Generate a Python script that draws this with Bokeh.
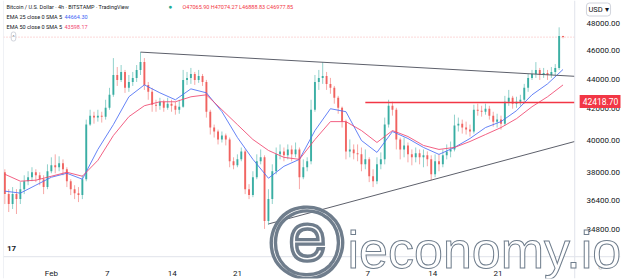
import pandas as pd
from bokeh.plotting import figure
from bokeh.models import Range1d, FixedTicker, NumeralTickFormatter, Label, Span, ColumnDataSource
from bokeh.embed import file_html
from bokeh.resources import INLINE

# ---------------- data ----------------
start_time = "2022-01-27 00:00"
candle_hours = 10
first_open = 38041.0
close = [36765, 36200, 36765, 36480, 37050, 37510, 37750, 38040, 37860, 37630,
         37170, 38100, 38460, 38340, 38580, 38220, 37510, 37050, 36820, 36710,
         37630, 40980, 41555, 41430, 41555, 41490, 42070, 42930, 44280, 43940,
         44490, 43400, 43800, 44080, 44630, 45180, 43600, 43130, 42270, 42200,
         42470, 42070, 42340, 42200, 41940, 42140, 43940, 44080, 44350, 43940,
         44210, 43800, 41810, 40790, 40540, 40040, 40290, 40040, 38700, 38460,
         38815, 39300, 37050, 36710, 37750, 38700, 38940, 35260, 36480, 38100,
         39120, 39300, 39060, 39420, 39120, 39420, 37750, 38340, 38700, 41940,
         43800, 44080, 44210, 43670, 43400, 42730, 42070, 41170, 39300, 39420,
         39180, 39120, 38515, 38815, 37810, 37510, 38515, 38815, 40980, 42200,
         41940, 40040, 39420, 39670, 39120, 38940, 39180, 38940, 39060, 38815,
         37920, 38700, 38515, 39060, 39300, 39420, 40920, 41040, 40790, 40660,
         40540, 41940, 41880, 41810, 42010, 41555, 41170, 41300, 41040, 42470,
         42730, 42340, 42470, 42600, 43400, 44080, 44350, 44630, 44280, 44420,
         44280, 44490, 44770, 47065.90, 46977.85]
high = [38218, 37050, 37170, 37050, 37460, 37860, 38100, 38340, 38220, 38040,
        37860, 38515, 38940, 39120, 39000, 38815, 38340, 37630, 37280, 37170,
        37860, 41300, 41940, 41810, 41940, 41810, 42600, 43400, 45465, 44835,
        44975, 44630, 44280, 44490, 44975, 45890, 45465, 43800, 43400, 42600,
        42730, 42600, 42730, 42600, 42470, 42600, 44630, 44490, 44770, 44490,
        44630, 44350, 43940, 41940, 40980, 40660, 40540, 40410, 40160, 38940,
        39120, 39540, 39420, 37340, 38100, 39120, 39420, 39060, 37050, 38515,
        39540, 39730, 39540, 39730, 39670, 39850, 39540, 38815, 38940, 42600,
        44280, 44630, 45180, 44490, 44080, 43530, 42860, 42150, 41300, 40040,
        39730, 39730, 39540, 39420, 38940, 38220, 38940, 39240, 41430, 42600,
        42470, 42070, 40160, 40160, 39850, 39420, 39540, 39420, 39420, 39300,
        39060, 39120, 39120, 39420, 39730, 39910, 41620, 41430, 41300, 41170,
        40980, 42270, 42340, 42200, 42340, 42200, 41810, 41680, 41555, 42860,
        43260, 42860, 42800, 42930, 43670, 44350, 44630, 45180, 44770, 44770,
        44630, 44835, 45040, 47700, 47074.27]
low = [36199, 35750, 35920, 35640, 36200, 36765, 37280, 37510, 37460, 37280,
       36765, 37050, 37980, 37980, 38100, 37860, 37170, 36710, 36480, 36310,
       36480, 37510, 40900, 41040, 41170, 41110, 41300, 41940, 42800, 43530,
       43800, 43060, 43130, 43530, 43800, 44280, 43260, 42600, 41810, 41810,
       41940, 41810, 41940, 41810, 41620, 41680, 42070, 43600, 43670, 43600,
       43740, 43530, 41430, 40350, 40160, 39730, 39850, 39670, 38340, 38220,
       38340, 38700, 36765, 36480, 36590, 37630, 38515, 34820, 35040, 36200,
       37920, 38815, 38700, 38815, 38700, 38940, 37050, 37630, 38100, 38515,
       41810, 43260, 43670, 43260, 43000, 42340, 41680, 40790, 38815, 38940,
       38815, 38700, 38100, 38220, 37460, 37170, 37340, 38220, 38515, 40790,
       41555, 39420, 38815, 38940, 38635, 38456, 38635, 38515, 38340, 38400,
       37570, 37750, 38100, 38340, 38815, 38940, 39300, 40540, 40410, 40350,
       40220, 40410, 41555, 41490, 41620, 41300, 40850, 40790, 40660, 40920,
       42200, 42010, 42070, 42200, 42340, 43130, 43940, 44080, 43940, 44080,
       43940, 44080, 44210, 44630, 46888.83]
# EMA values read at every 4th candle
ema25 = [36936, 36822, 37281, 37747, 37982, 37630, 39421, 40979, 42798, 43601,
         43064, 42599, 43331, 43064, 41814, 40162, 38815, 37688, 38396, 38815,
         40600, 42009, 41814, 39975, 39238, 40537, 40100, 39544, 39117, 39544,
         40100, 40790, 41171, 41879, 42930, 43669, 44664.30]
ema50 = [37923, 37514, 37572, 37806, 38041, 37806, 38755, 40287, 41491, 42205,
         42467, 42467, 42798, 42930, 41943, 40979, 40037, 39360, 38936, 38815,
         40037, 41171, 41171, 40600, 39852, 40600, 40224, 39667, 39421, 39544,
         39913, 40349, 40790, 41362, 42139, 42798, 43598.17]
upper_trend_t = ["2022-02-10 14:00", "2022-03-29 06:12"]
upper_trend_p = [45890, 44190]
lower_trend_t = ["2022-02-24 08:00", "2022-03-29 06:12"]
lower_trend_p = [35090, 39913]
level_t = ["2022-03-06 18:00", "2022-03-29 06:12"]
level_p = [42418.70, 42418.70]
last_price = 46977.85
date_ticks = ["2022-02-01", "2022-02-07", "2022-02-14", "2022-02-21",
              "2022-03-07", "2022-03-14", "2022-03-21"]
date_labels = ["Feb", "7", "14", "21", "7", "14", "21"]
price_ticks = [34800, 36400, 38000, 40000, 42000, 44000, 46000, 48000]

# ---------------- layout ----------------
W, H = 623, 280
FL, FB = 3, 280                      # frame left / bottom (canvas px)
view_start, view_end = "2022-01-26 20:32", "2022-04-03 04:18"
pane_end = "2022-03-29 06:12"        # right edge of the price pane
pane_bottom_price = 33342            # bottom edge of the price pane
UP, DOWN = "#26a69a", "#ef5350"
GRID = "#e0e3eb"


def ms(s):
    return int(pd.Timestamp(s).value // 10**6)


times = pd.date_range(start_time, periods=len(close), freq=f"{candle_hours}h")
opens = [first_open] + close[:-1]
df = pd.DataFrame(dict(t=times, open=opens, close=close, high=high, low=low))
df["top"] = df[["open", "close"]].max(axis=1)
df["bottom"] = df[["open", "close"]].min(axis=1)
inc = df[df.close >= df.open]
dec = df[df.close < df.open]

p = figure(width=W, height=H, x_axis_type="datetime", y_axis_type="log",
           y_axis_location="right",
           x_range=Range1d(ms(view_start), ms(view_end)),
           y_range=Range1d(32226, 49742),
           output_backend="svg", toolbar_location=None,
           min_border_left=FL, min_border_right=0,
           min_border_top=0, min_border_bottom=0)
p.outline_line_color = None
p.background_fill_color = "white"
p.border_fill_color = "white"
p.xgrid.grid_line_color = None
p.ygrid.grid_line_color = None

# price axis (labels drawn inwards over the price-scale strip)
p.yaxis.ticker = FixedTicker(ticks=price_ticks)
p.yaxis.formatter = NumeralTickFormatter(format="0.00")
p.yaxis.major_tick_line_color = None
p.yaxis.minor_tick_line_color = None
p.yaxis.axis_line_color = None
p.yaxis.major_label_standoff = -40
p.yaxis.major_label_text_font = "Roboto"
p.yaxis.major_label_text_font_size = "8px"
p.yaxis.major_label_text_color = "#131722"

# time axis
tick_ms = [ms(d) for d in date_ticks]
p.xaxis.ticker = FixedTicker(ticks=tick_ms)
p.xaxis.major_label_overrides = {t: lab for t, lab in zip(tick_ms, date_labels)}
p.xaxis.major_tick_line_color = None
p.xaxis.minor_tick_line_color = None
p.xaxis.axis_line_color = None
p.xaxis.major_label_standoff = -16
p.xaxis.major_label_text_font = "Roboto"
p.xaxis.major_label_text_font_size = "8px"
p.xaxis.major_label_text_color = "#131722"

# pane dividers
p.add_layout(Span(location=ms(pane_end), dimension="height", line_color=GRID, line_width=1))
p.add_layout(Span(location=ms(view_start), dimension="height", line_color=GRID, line_width=1))
p.add_layout(Span(location=pane_bottom_price, dimension="width", line_color=GRID, line_width=1))

# last-price line
p.line([ms(view_start), ms(pane_end)], [last_price, last_price], line_color=DOWN,
       line_alpha=0.45, line_dash="1 2", line_width=1)

# candles
body_w = 5 * 3600 * 1000
for sub, col in ((inc, UP), (dec, DOWN)):
    src = ColumnDataSource(sub)
    p.segment(x0="t", y0="low", x1="t", y1="high", source=src,
              line_color=col, line_alpha=0.5, line_width=1)
    p.vbar(x="t", width=body_w, top="top", bottom="bottom", source=src,
           fill_color=col, fill_alpha=0.85, line_color=None)

# EMAs
ema_t = times[::4]
p.line(ema_t, ema25, line_color="#4a6df5", line_width=1, line_alpha=0.85)
p.line(ema_t, ema50, line_color="#f0456f", line_width=1, line_alpha=0.85)

# drawings
p.line(pd.to_datetime(upper_trend_t), upper_trend_p, line_color="#5d606b", line_width=1)
p.line(pd.to_datetime(lower_trend_t), lower_trend_p, line_color="#5d606b", line_width=1)
p.line(pd.to_datetime(level_t), level_p, line_color="#f23645", line_width=1.4)


def lab(text, cx, cy, **kw):
    opts = dict(x=cx - FL, y=FB - cy, x_units="screen", y_units="screen",
                text=text, text_font="Roboto", text_font_size="5.5px",
                text_baseline="middle", text_color="#131722")
    opts.update(kw)
    try:
        l = Label(**opts)
    except AttributeError:
        opts.pop("text_outline_color", None)
        l = Label(**opts)
    p.add_layout(l)
    return l


# legend block
lab("Bitcoin / U.S. Dollar · 4h · BITSTAMP · TradingView", 6, 8)
lab("●", 168, 8, text_color="#22ab94", text_font_size="6.5px")
lab("O47065.90 H47074.27 L46888.83 C46977.85", 182, 8, text_color="#f23645")
lab("EMA 25 close 0 SMA 5", 6, 18)
lab(f"{ema25[-1]:.2f}", 64, 18, text_color="#3d63f5")
lab("EMA 50 close 0 SMA 5", 6, 28)
lab(f"{ema50[-1]:.2f}", 64, 28, text_color="#f0456f")
lab("^", 13, 38, text_align="center", text_font_size="6px", text_color="#787b86",
    border_line_color="#d1d4dc", border_radius=2, padding=1,
    background_fill_color="white")

# price-axis extras
lab("USD ▾", 598, 11, text_align="center", text_font_size="7.5px",
    border_line_color="#d1d4dc", border_radius=3, padding=2,
    background_fill_color="white")
lab(f"{level_p[0]:.2f}", 600, 103, text_align="center", text_font_size="8.5px",
    text_color="white", background_fill_color="#f23645", padding=3)
lab("○", 600, 269, text_align="center", text_font_size="8px", text_color="#787b86")
lab("17", 11, 250, text_align="center", text_font_size="8px", text_font_style="bold")

# watermark
lab("ⓔ", 306, 245, text_align="center", text_font="DejaVu Sans",
    text_font_style="bold", text_font_size="76px", text_color="white",
    text_alpha=0.9, text_outline_color="#5f6f80")
lab("ieconomy.io", 347, 251, text_font="Liberation Sans",
    text_font_size="52px", text_color="white", text_alpha=0.9,
    text_outline_color="#5f6f80")

open("out.html", "w").write(file_html(p, INLINE))
